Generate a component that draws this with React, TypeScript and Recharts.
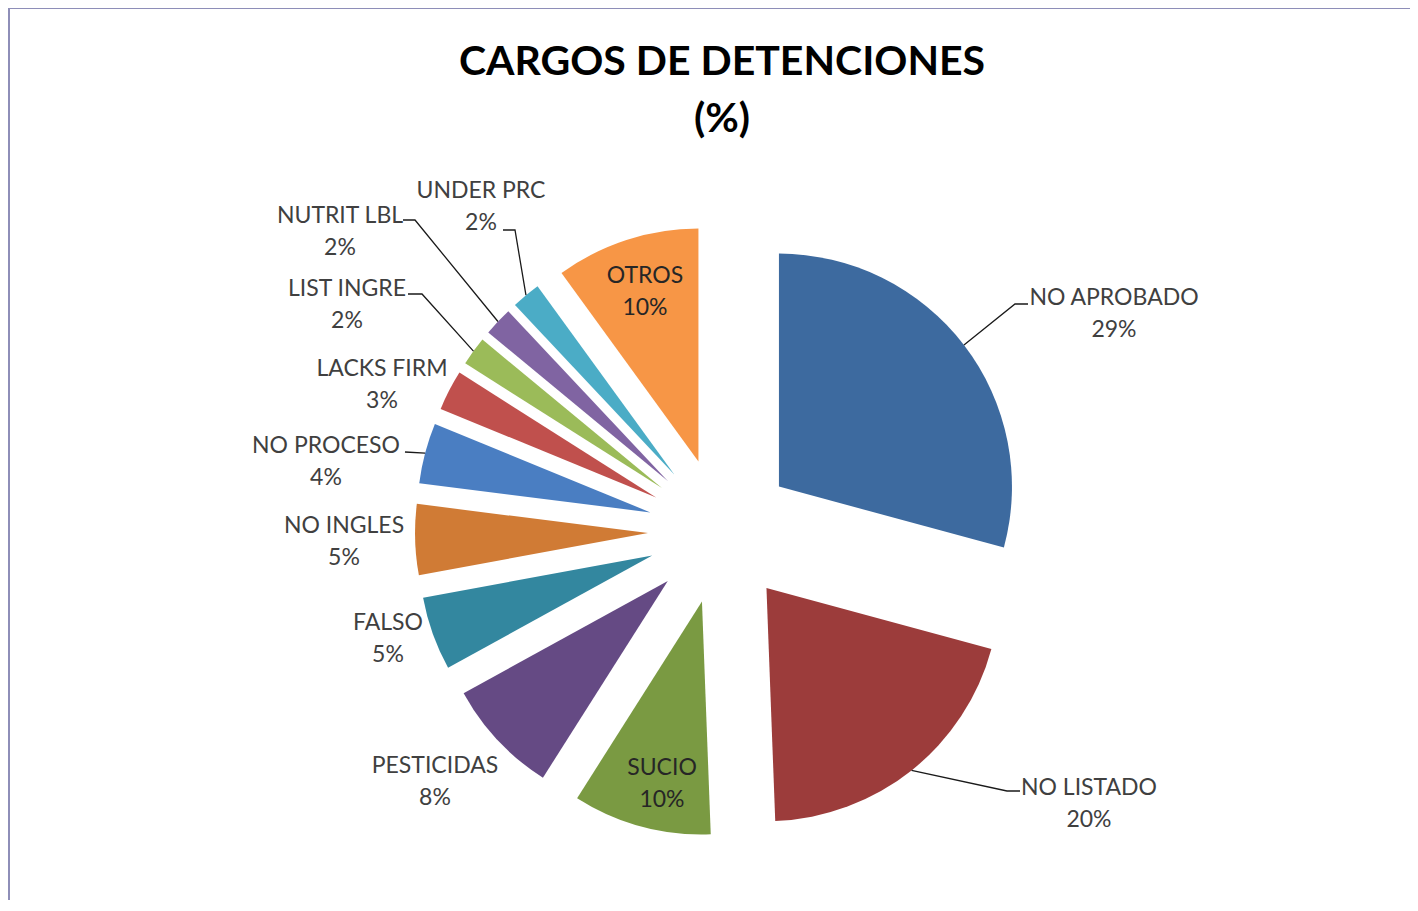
import { PieChart, Pie, Sector } from 'recharts';

const categories = [
  'NO APROBADO',
  'NO LISTADO',
  'SUCIO',
  'PESTICIDAS',
  'FALSO',
  'NO INGLES',
  'NO PROCESO',
  'LACKS FIRM',
  'LIST INGRE',
  'NUTRIT LBL',
  'UNDER PRC',
  'OTROS',
];
const shares = [29.2, 20.2, 9.6, 8.0, 5.1, 4.9, 4.2, 2.8, 2.0, 2.0, 2.0, 10.0];

const colors = [
  '#3d6a9f', '#9c3c3b', '#7a9a42', '#654a84', '#33879f', '#d07b35',
  '#4a7ec2', '#c0504d', '#9bbb59', '#8064a2', '#4bacc6', '#f79646',
];

const data = categories.map((name, i) => ({ name, value: shares[i] }));

// where each label sits, relative to the pie centre (text centre of the first line),
// plus an optional leader line elbow and its horizontal end
type Spot = { dx: number; dy: number; inside?: boolean; elbow?: [number, number]; end?: number };
const labelSpots: Spot[] = [
  { dx: 393, dy: -236, elbow: [294, -227], end: 307 },
  { dx: 368, dy: 254, elbow: [286, 260], end: 299 },
  { dx: -59, dy: 234, inside: true },
  { dx: -286, dy: 232 },
  { dx: -333, dy: 89 },
  { dx: -377, dy: -8 },
  { dx: -395, dy: -88, elbow: [-316, -79] },
  { dx: -339, dy: -165 },
  { dx: -374, dy: -245, elbow: [-299, -237], end: -313 },
  { dx: -381, dy: -318, elbow: [-306, -311], end: -318 },
  { dx: -240, dy: -343, elbow: [-206, -301], end: -218 },
  { dx: -76, dy: -258, inside: true },
];

const EXPLODE = 73;
const RAD = Math.PI / 180;
const FONT = "Lato, 'Open Sans', sans-serif";

function renderSlice(props: any) {
  const { cx, cy, outerRadius, startAngle, endAngle, midAngle, percent, index, name } = props;
  const ox = cx + EXPLODE * Math.cos(-midAngle * RAD);
  const oy = cy + EXPLODE * Math.sin(-midAngle * RAD);
  const spot = labelSpots[index];
  const tx = cx + spot.dx;
  const ty = cy + spot.dy;
  const arcX = ox + outerRadius * Math.cos(-midAngle * RAD);
  const arcY = oy + outerRadius * Math.sin(-midAngle * RAD);
  let leader = null;
  if (spot.elbow) {
    const ex = cx + spot.elbow[0];
    const ey = cy + spot.elbow[1];
    const pts = [`${arcX},${arcY}`, `${ex},${ey}`];
    if (spot.end !== undefined) pts.push(`${cx + spot.end},${ey}`);
    leader = <polyline points={pts.join(' ')} fill="none" stroke="#1a1a1a" strokeWidth={1.3} />;
  }
  const color = spot.inside ? '#262626' : '#404040';
  return (
    <g key={`slice-${index}`}>
      <Sector
        cx={ox}
        cy={oy}
        innerRadius={0}
        outerRadius={outerRadius}
        startAngle={startAngle}
        endAngle={endAngle}
        fill={colors[index]}
        stroke="none"
      />
      {leader}
      <text x={tx} y={ty + 10} textAnchor="middle" fill={color} fontSize={23} fontFamily={FONT}>
        {name}
      </text>
      <text x={tx} y={ty + 42} textAnchor="middle" fill={color} fontSize={23} fontFamily={FONT}>
        {`${Math.round(percent * 100)}%`}
      </text>
    </g>
  );
}

export default function App() {
  return (
    <div
      style={{
        position: 'relative',
        width: 1408,
        height: 891,
        marginTop: -1,
        borderTop: '2px solid #8e8eb8',
        borderLeft: '2px solid #8e8eb8',
        background: '#fff',
      }}
    >
      <div
        style={{
          position: 'absolute',
          left: 0,
          top: 22,
          width: 1424,
          textAlign: 'center',
          fontFamily: FONT,
          fontWeight: 700,
          fontSize: 41,
          lineHeight: '57px',
          color: '#000',
        }}
      >
        CARGOS DE DETENCIONES
        <br />
        (%)
      </div>
      <PieChart width={1408} height={891}>
        <Pie
          data={data}
          dataKey="value"
          nameKey="name"
          cx={706}
          cy={517}
          outerRadius={233}
          startAngle={90}
          endAngle={-270}
          fill="transparent"
          stroke="none"
          label={renderSlice}
          labelLine={false}
          isAnimationActive={false}
        />
      </PieChart>
    </div>
  );
}
